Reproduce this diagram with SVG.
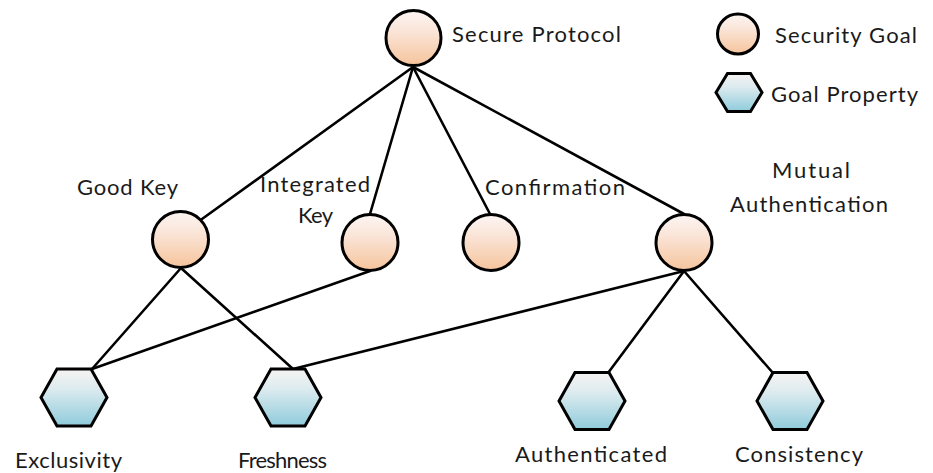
<svg xmlns="http://www.w3.org/2000/svg" width="933" height="473" viewBox="0 0 933 473">
  <defs>
    <linearGradient id="goalFill" x1="0" y1="0" x2="0" y2="1">
      <stop offset="0" stop-color="#fcf5f3"/>
      <stop offset="0.35" stop-color="#fae6da"/>
      <stop offset="1" stop-color="#f6c49c"/>
    </linearGradient>
    <linearGradient id="propFill" x1="0" y1="0" x2="0" y2="1">
      <stop offset="0" stop-color="#f7f3f3"/>
      <stop offset="0.35" stop-color="#dcebef"/>
      <stop offset="1" stop-color="#8fcbdb"/>
    </linearGradient>
    <path id="hex" d="M -33,0 L -17,-28.5 L 17,-28.5 L 33,0 L 17,28.5 L -17,28.5 Z"/>
  </defs>
  <style>
    .edge { stroke: #000; stroke-width: 2.6; fill: none; stroke-linecap: round; }
    .goal { fill: url(#goalFill); stroke: #000; stroke-width: 3; }
    .prop { fill: url(#propFill); stroke: #000; stroke-width: 3; stroke-linejoin: miter; }
    .label { font-family: Lato, "Open Sans", "Liberation Sans", sans-serif; font-size: 22px; fill: #1a1a1a; }
  </style>
  <rect width="933" height="473" fill="#fff"/>

  <!-- connectors -->
  <g id="connectors">
    <line class="edge" x1="413" y1="67" x2="202" y2="219"/>
    <line class="edge" x1="413" y1="67" x2="370" y2="214"/>
    <line class="edge" x1="413" y1="67" x2="490" y2="214"/>
    <line class="edge" x1="413" y1="67" x2="684" y2="214"/>
    <line class="edge" x1="181" y1="268" x2="92" y2="369"/>
    <line class="edge" x1="181" y1="268" x2="293" y2="369"/>
    <line class="edge" x1="370" y1="271" x2="92" y2="369"/>
    <line class="edge" x1="684" y1="271" x2="293" y2="369"/>
    <line class="edge" x1="684" y1="271" x2="608" y2="373"/>
    <line class="edge" x1="684" y1="271" x2="773" y2="373"/>
  </g>

  <!-- security goals -->
  <g id="secure-protocol">
    <circle class="goal" cx="413.5" cy="38" r="27.5"/>
    <text class="label" x="452" y="42" textLength="169" lengthAdjust="spacing">Secure Protocol</text>
  </g>
  <g id="good-key">
    <circle class="goal" cx="180.5" cy="239.5" r="28"/>
    <text class="label" x="77" y="195" textLength="101" lengthAdjust="spacing">Good Key</text>
  </g>
  <g id="integrated-key">
    <circle class="goal" cx="370" cy="242.5" r="28"/>
    <text class="label" x="260" y="192" textLength="110" lengthAdjust="spacing">Integrated</text>
    <text class="label" x="298" y="223" textLength="35" lengthAdjust="spacing">Key</text>
  </g>
  <g id="confirmation">
    <circle class="goal" cx="491" cy="242.5" r="28"/>
    <text class="label" x="485" y="195" textLength="140" lengthAdjust="spacing">Confirmation</text>
  </g>
  <g id="mutual-authentication">
    <circle class="goal" cx="684" cy="242.5" r="28"/>
    <text class="label" x="772" y="178" textLength="78" lengthAdjust="spacing">Mutual</text>
    <text class="label" x="730" y="212" textLength="158" lengthAdjust="spacing">Authentication</text>
  </g>

  <!-- goal properties -->
  <g id="exclusivity">
    <use href="#hex" class="prop" transform="translate(74 397.5)"/>
    <text class="label" x="15" y="468" textLength="107" lengthAdjust="spacing">Exclusivity</text>
  </g>
  <g id="freshness">
    <use href="#hex" class="prop" transform="translate(288 397.5)"/>
    <text class="label" x="238" y="468" textLength="89" lengthAdjust="spacing">Freshness</text>
  </g>
  <g id="authenticated">
    <use href="#hex" class="prop" transform="translate(592 401)"/>
    <text class="label" x="515" y="462" textLength="152" lengthAdjust="spacing">Authenticated</text>
  </g>
  <g id="consistency">
    <use href="#hex" class="prop" transform="translate(790 401)"/>
    <text class="label" x="735" y="462" textLength="128" lengthAdjust="spacing">Consistency</text>
  </g>

  <!-- legend -->
  <g id="legend-security-goal">
    <ellipse class="goal" cx="738" cy="34" rx="20.5" ry="20"/>
    <text class="label" x="775" y="43" textLength="142" lengthAdjust="spacing">Security Goal</text>
  </g>
  <g id="legend-goal-property">
    <path class="prop" d="M 716,92.5 L 727.5,73.5 L 750.5,73.5 L 762,92.5 L 750.5,111.5 L 727.5,111.5 Z"/>
    <text class="label" x="771" y="102" textLength="147" lengthAdjust="spacing">Goal Property</text>
  </g>
</svg>
